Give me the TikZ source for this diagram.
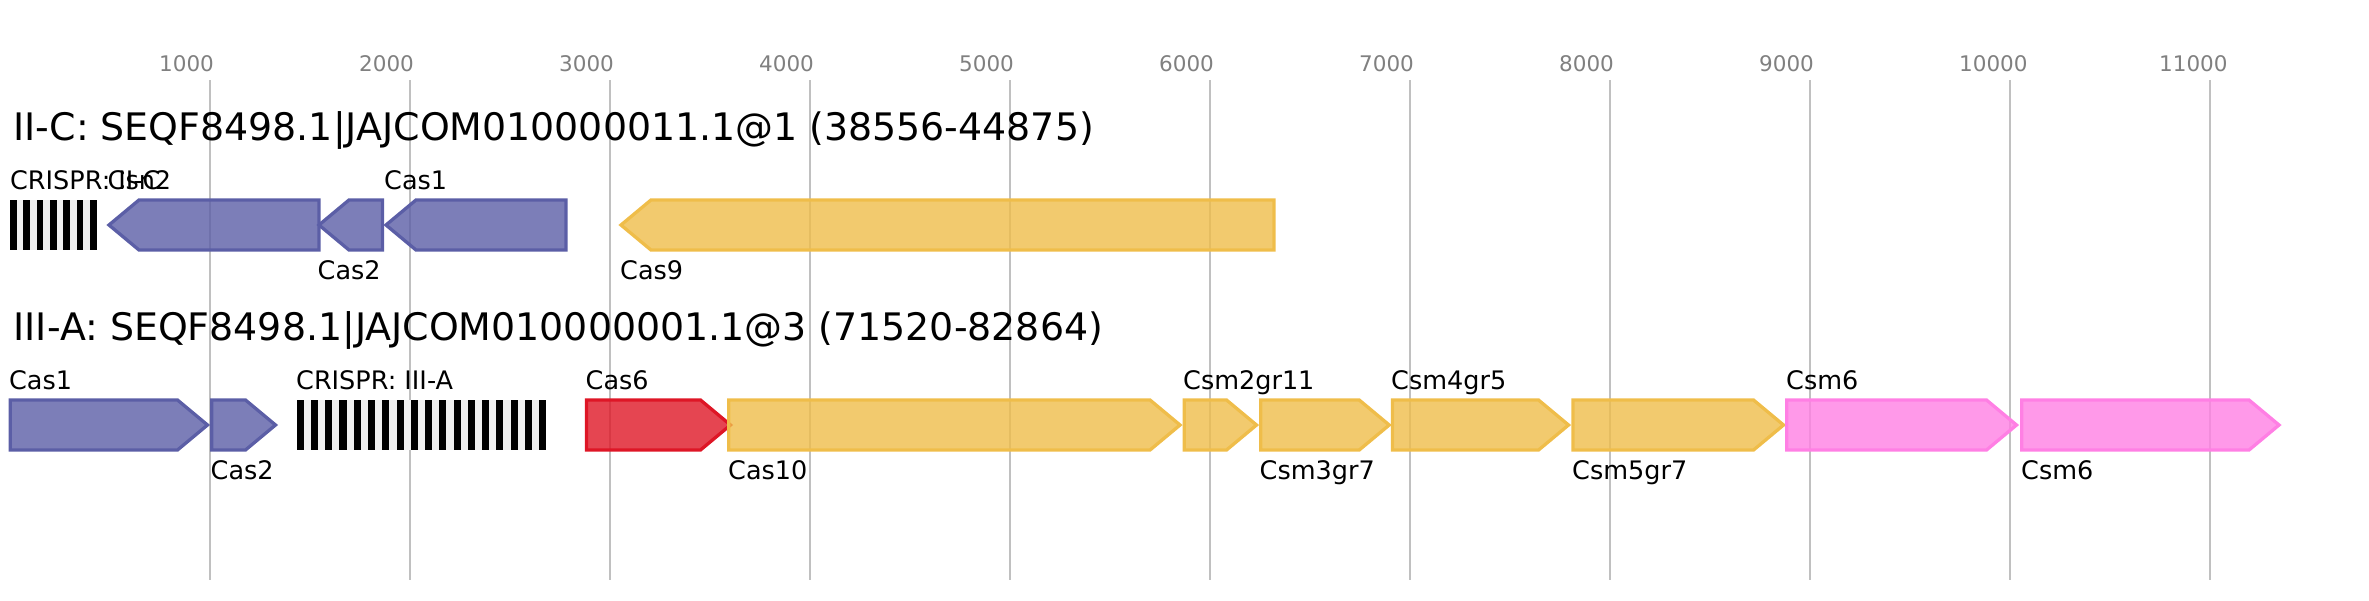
\documentclass[tikz,border=0pt]{standalone}
\usepackage{fontspec}
\setmainfont{DejaVu Sans}
\definecolor{cblue}{RGB}{91,94,166}
\definecolor{cyel}{RGB}{239,189,74}
\definecolor{cred}{RGB}{222,22,38}
\definecolor{cpink}{RGB}{255,127,228}
\definecolor{cgrid}{RGB}{192,192,192}
\definecolor{ctick}{RGB}{128,128,128}
\definecolor{carr}{RGB}{240,240,240}
\tikzset{
  gridln/.style={draw=cgrid, line width=2pt},
  genebody/.style={line width=3.3pt, fill opacity=0.8, draw opacity=1, line join=miter},
  genelbl/.style={anchor=base west, inner sep=0pt, font=\fontsize{25.5}{30}\selectfont},
  titlelbl/.style={anchor=base west, inner sep=0pt, font=\fontsize{37.9}{45}\selectfont},
  ticklbl/.style={anchor=base west, inner sep=0pt, text=ctick, font=\fontsize{21.5}{26}\selectfont},
}
% right-pointing gene: start, tip, top y, colour
\newcommand\GeneR[4]{%
  \draw[genebody, draw=#4, fill=#4] (#1,#3) -- ({#2-30},#3) -- (#2,{#3+25}) -- ({#2-30},{#3+50}) -- (#1,{#3+50}) -- cycle;}
% left-pointing gene: tip, end, top y, colour
\newcommand\GeneL[4]{%
  \draw[genebody, draw=#4, fill=#4] (#1,{#3+25}) -- ({#1+30},#3) -- (#2,#3) -- (#2,{#3+50}) -- ({#1+30},{#3+50}) -- cycle;}
% CRISPR array: start, period, number of repeats, top y
\newcommand\CrArray[4]{%
  \fill[carr] (#1,#4) rectangle ({#1+#2*(#3-1)+#2/2},{#4+50});
  \foreach \j in {1,...,#3} {
    \fill[black] ({#1+#2*(\j-1)},#4) rectangle ({#1+#2*(\j-1)+#2/2},{#4+50});
  }}
\begin{document}
\begin{tikzpicture}[x=1pt,y=-1pt]
\useasboundingbox (0,0) rectangle (2369,600);
% grid and scale
\foreach \k in {1,...,11} {
  \draw[gridln] ({10+200*\k},80) -- ({10+200*\k},580);
  \node[ticklbl] (tick\k) at ({10+200*\k-51},71) {\k000};
}
% titles
\node[titlelbl] (title1) at (13.4,140) {II-C: SEQF8498.1|JAJCOM010000011.1@1 (38556-44875)};
\node[titlelbl] (title2) at (13.4,340) {III-A: SEQF8498.1|JAJCOM010000001.1@3 (71520-82864)};
% row 1
\CrArray{10}{13.33}{7}{200}
\GeneL{109}{319}{200}{cblue}
\GeneL{319}{382.5}{200}{cblue}
\GeneL{386}{566}{200}{cblue}
\GeneL{621}{1274}{200}{cyel}
\node[genelbl] (l1a) at (10,189.5) {CRISPR: II-C};
\node[genelbl] (l1b) at (107.5,189.5) {Csn2};
\node[genelbl] (l1c) at (317.5,279.5) {Cas2};
\node[genelbl] (l1d) at (384,189.5) {Cas1};
\node[genelbl] (l1e) at (620,279.5) {Cas9};
% row 2
\GeneR{10.3}{207.5}{400}{cblue}
\GeneR{211.7}{275.5}{400}{cblue}
\CrArray{296.7}{14.26}{18}{400}
\GeneR{586.4}{730.5}{400}{cred}
\GeneR{728.7}{1180}{400}{cyel}
\GeneR{1184.3}{1256.5}{400}{cyel}
\GeneR{1260.7}{1389.2}{400}{cyel}
\GeneR{1392.5}{1568.5}{400}{cyel}
\GeneR{1573}{1783.5}{400}{cyel}
\GeneR{1786.7}{2016.5}{400}{cpink}
\GeneR{2021.7}{2279}{400}{cpink}
\node[genelbl] (l2a) at (9,389.5) {Cas1};
\node[genelbl] (l2b) at (210.5,479.5) {Cas2};
\node[genelbl] (l2c) at (296,389.5) {CRISPR: III-A};
\node[genelbl] (l2d) at (585.5,389.5) {Cas6};
\node[genelbl] (l2e) at (728,479.5) {Cas10};
\node[genelbl] (l2f) at (1183,389.5) {Csm2gr11};
\node[genelbl] (l2g) at (1259.5,479.5) {Csm3gr7};
\node[genelbl] (l2h) at (1391,389.5) {Csm4gr5};
\node[genelbl] (l2i) at (1572,479.5) {Csm5gr7};
\node[genelbl] (l2j) at (1786,389.5) {Csm6};
\node[genelbl] (l2k) at (2021,479.5) {Csm6};
\end{tikzpicture}
\end{document}
